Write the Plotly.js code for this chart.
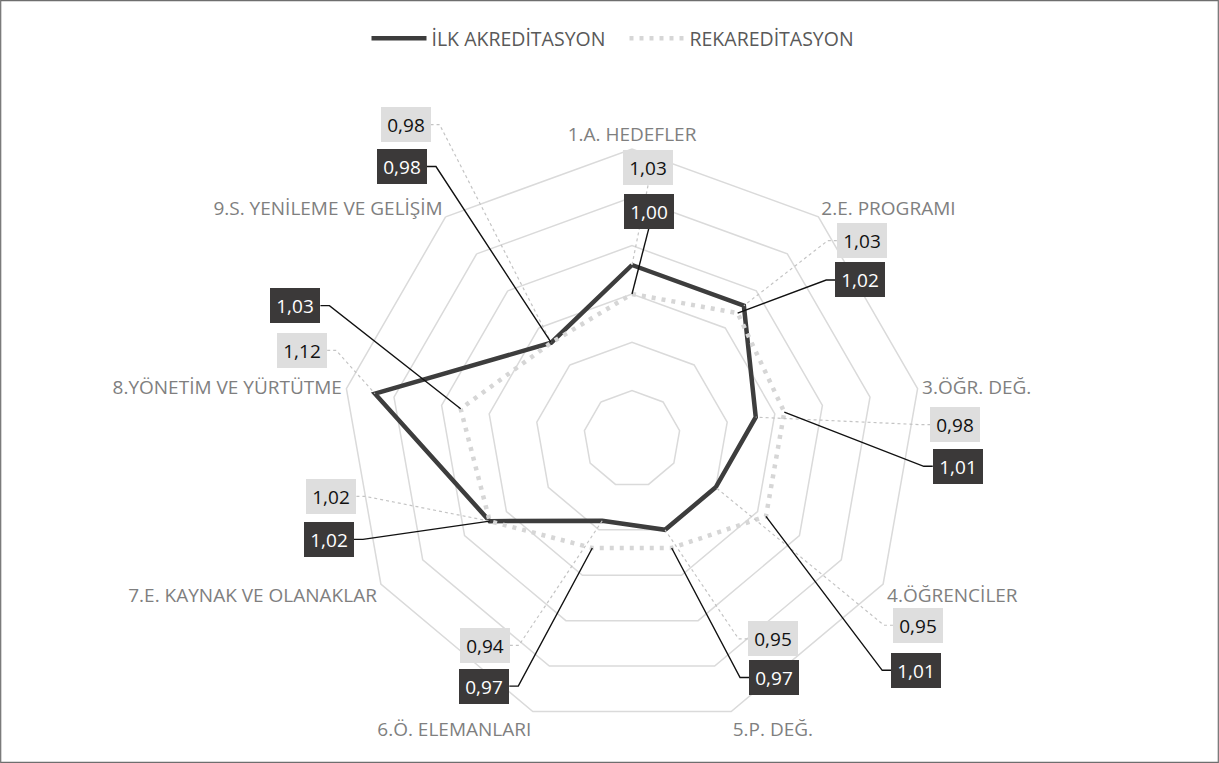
<!DOCTYPE html>
<html>
<head>
<meta charset="utf-8">
<script src="https://cdn.plot.ly/plotly-3.0.1.min.js"></script>
<style>
html,body{margin:0;padding:0;background:#ffffff;}
#chart{width:1219px;height:763px;}
</style>
</head>
<body>
<div id="chart"></div>
<script>
// ---------------- DATA ----------------
const categories = [
  '1.A. HEDEFLER',
  '2.E. PROGRAMI',
  '3.ÖĞR. DEĞ.',
  '4.ÖĞRENCİLER',
  '5.P. DEĞ.',
  '6.Ö. ELEMANLARI',
  '7.E. KAYNAK VE OLANAKLAR',
  '8.YÖNETİM VE YÜRTÜTME',
  '9.S. YENİLEME VE GELİŞİM'
];
const ilkAkreditasyon = [1.03, 1.03, 0.98, 0.95, 0.95, 0.94, 1.02, 1.12, 0.98];
const rekAkreditasyon = [1.00, 1.02, 1.01, 1.01, 0.97, 0.97, 1.02, 1.03, 0.98];
const seriesNames = ['İLK AKREDİTASYON', 'REKAREDİTASYON'];
const radialRange = [0.85, 1.15];
const radialStep = 0.05;

// ---------------- LAYOUT GEOMETRY ----------------
const W = 1219, H = 763;
const CX = 632, CY = 439, R = 290;          // polar centre and radius in px
const REF_RX = 266, REF_RY = 294;            // reference frame radii for label placement
const kx = R / REF_RX, ky = R / REF_RY;
// label box centres (reference frame), İLK labels light, REK labels dark
const ilkBoxRef = [[646.7,164.2],[842.8,237.8],[928.7,424.5],[894.3,627.8],[761,641.7],[497,648.3],[356.3,497.2],[329.5,349.2],[424.3,120.2]];
const rekBoxRef = [[647.3,208.2],[841.3,277.8],[930.8,466.7],[892.7,673.5],[762.3,680.8],[496.5,689.5],[354,540.8],[323.3,303.8],[421,162.8]];
const BOX_W = 50, BOX_H = 35;

function fmt(v){ return v.toFixed(2).replace('.', ','); }
function toPaperX(x){ return x / W; }
function toPaperY(y){ return 1 - y / H; }
function pointPx(i, v){
  const n = categories.length;
  const th = i * 2 * Math.PI / n;
  const rho = (v - radialRange[0]) / (radialRange[1] - radialRange[0]);
  return [CX + R * rho * Math.sin(th), CY - R * rho * Math.cos(th)];
}
function boxPx(ref){
  return [CX + (ref[0] - CX) * kx, CY + (ref[1] - CY) * ky];
}

const fontFam = '"Open Sans", "Noto Sans", sans-serif';

// ---------------- TRACES ----------------
const closedCats = categories.concat([categories[0]]);
const traces = [
  {
    type: 'scatterpolar',
    mode: 'lines',
    name: seriesNames[0],
    theta: closedCats,
    r: ilkAkreditasyon.concat([ilkAkreditasyon[0]]),
    line: {color: '#3d3d3d', width: 4.5},
    hoverinfo: 'skip'
  },
  {
    type: 'scatterpolar',
    mode: 'lines',
    name: seriesNames[1],
    theta: closedCats,
    r: rekAkreditasyon.concat([rekAkreditasyon[0]]),
    line: {color: '#d6d6d6', width: 4.5, dash: '4px,6px'},
    hoverinfo: 'skip'
  }
];

// ---------------- LABELS + LEADERS ----------------
const annotations = [];
const shapes = [];

function addLabel(i, v, ref, dark){
  const [px, py] = pointPx(i, v);
  const [bx, by] = boxPx(ref);
  let path;
  if (Math.abs(px - bx) < BOX_W * 0.6) {
    const ey = py > by ? by + BOX_H / 2 : by - BOX_H / 2;
    path = 'M ' + toPaperX(bx) + ' ' + toPaperY(ey) + ' L ' + toPaperX(px) + ' ' + toPaperY(py);
  } else {
    const s = px > bx ? 1 : -1;
    const ex = bx + s * BOX_W / 2;
    const sx = ex + s * 9;
    path = 'M ' + toPaperX(ex) + ' ' + toPaperY(by) +
           ' L ' + toPaperX(sx) + ' ' + toPaperY(by) +
           ' L ' + toPaperX(px) + ' ' + toPaperY(py);
  }
  shapes.push({
    type: 'path', xref: 'paper', yref: 'paper', path: path, layer: 'above',
    line: dark ? {color: '#111111', width: 1.4} : {color: '#c4c4c4', width: 1.2, dash: 'dot'}
  });
  annotations.push({
    xref: 'paper', yref: 'paper', x: toPaperX(bx), y: toPaperY(by),
    xanchor: 'center', yanchor: 'middle', showarrow: false,
    text: fmt(v), width: BOX_W - 2, height: BOX_H - 2, borderpad: 1, borderwidth: 0,
    bgcolor: dark ? '#3b3939' : '#dedede',
    font: {family: fontFam, size: 19, color: dark ? '#ffffff' : '#111111'}
  });
}

categories.forEach((c, i) => {
  addLabel(i, ilkAkreditasyon[i], ilkBoxRef[i], false);
});
categories.forEach((c, i) => {
  addLabel(i, rekAkreditasyon[i], rekBoxRef[i], true);
});

// outer frame
shapes.push({type: 'rect', xref: 'paper', yref: 'paper', x0: 0.7 / W, x1: 1 - 0.7 / W, y0: 0.7 / H, y1: 1 - 0.7 / H,
  line: {color: '#6e6e6e', width: 1.2}, layer: 'above'});

const layout = {
  width: W, height: H,
  margin: {l: 0, r: 0, t: 0, b: 0},
  paper_bgcolor: '#ffffff',
  font: {family: fontFam, color: '#595959'},
  showlegend: true,
  legend: {
    orientation: 'h', x: 0.5 + 15 / W, xanchor: 'center', y: 1 - 19 / H, yanchor: 'top',
    font: {family: fontFam, size: 19.5, color: '#595959'},
    itemwidth: 55, entrywidth: 188, entrywidthmode: 'pixels',
    bgcolor: 'rgba(0,0,0,0)'
  },
  polar: {
    domain: {
      x: [(CX - R) / W, (CX + R) / W],
      y: [(H - CY - R) / H, (H - CY + R) / H]
    },
    bgcolor: '#ffffff',
    gridshape: 'linear',
    radialaxis: {
      range: radialRange, tick0: radialRange[0], dtick: radialStep,
      showticklabels: false, ticks: '', showline: false,
      gridcolor: '#dadada', gridwidth: 1.5
    },
    angularaxis: {
      type: 'category', direction: 'clockwise', rotation: 90,
      showgrid: false, showline: true, linecolor: '#dadada', linewidth: 1.5,
      ticks: '',
      tickfont: {family: fontFam, size: 19, color: '#7f7f7f'}
    }
  },
  hovermode: false,
  annotations: annotations,
  shapes: shapes
};

Plotly.newPlot('chart', traces, layout, {displayModeBar: false, staticPlot: true});
</script>
</body>
</html>
